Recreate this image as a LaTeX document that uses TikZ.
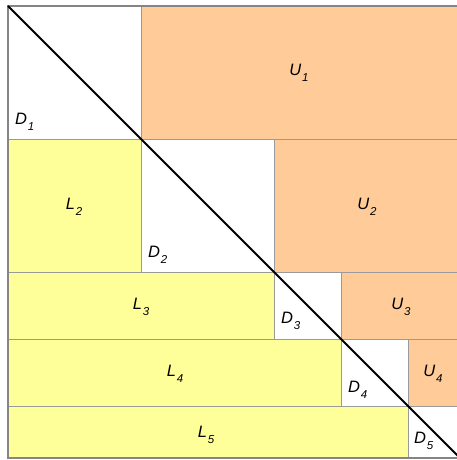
\documentclass[tikz,border=0pt]{standalone}
\usepackage{fontspec}
\setmainfont{Liberation Sans}
\definecolor{upc}{HTML}{FFCC99}
\definecolor{lowc}{HTML}{FFFF99}
\definecolor{gridc}{HTML}{9A9A9A}
\definecolor{framec}{HTML}{858585}
\newcommand{\blab}[2]{\itshape #1\hspace{0.8pt}\raisebox{-6.5pt}{\fontsize{11.5}{12}\selectfont\itshape #2}}
\begin{document}
\begin{tikzpicture}[x=1pt,y=-1pt,
  blk/.style={draw=gridc, line width=0.9pt},
  lbl/.style={font=\fontsize{16.5}{18}\selectfont, inner sep=0pt},
  dlbl/.style={lbl, anchor=base west}]
\useasboundingbox (0,0) rectangle (457,460);
\begin{scope}
\clip (0,0) rectangle (457,460);
% row 1
\filldraw[blk, fill=white] (8,6) rectangle (141,139);
\filldraw[blk, fill=upc] (141,6) rectangle (480,139);
% row 2
\filldraw[blk, fill=lowc] (8,139) rectangle (141,272);
\filldraw[blk, fill=white] (141,139) rectangle (274,272);
\filldraw[blk, fill=upc] (274,139) rectangle (480,272);
% row 3
\filldraw[blk, fill=lowc] (8,272) rectangle (274,339);
\filldraw[blk, fill=white] (274,272) rectangle (341,339);
\filldraw[blk, fill=upc] (341,272) rectangle (480,339);
% row 4
\filldraw[blk, fill=lowc] (8,339) rectangle (341,406);
\filldraw[blk, fill=white] (341,339) rectangle (408,406);
\filldraw[blk, fill=upc] (408,339) rectangle (480,406);
% row 5
\filldraw[blk, fill=lowc] (8,406) rectangle (408,458);
\filldraw[blk, fill=white] (408,406) rectangle (480,458);
% outer frame
\draw[framec, line width=2pt] (480,6) -- (8,6) -- (8,458) -- (480,458);
% diagonal
\coordinate (dA) at (8,6);
\coordinate (dB) at (470,468);
\draw[black, line width=1.8pt] (dA) -- (dB);
\end{scope}
% labels
\node[lbl] (u1) at (299,73) {\blab{U}{1}};
\node[lbl] (l2) at (74,207) {\blab{L}{2}};
\node[lbl] (u2) at (367,207) {\blab{U}{2}};
\node[lbl] (l3) at (141,307) {\blab{L}{3}};
\node[lbl] (u3) at (401,307) {\blab{U}{3}};
\node[lbl] (l4) at (175,374) {\blab{L}{4}};
\node[lbl] (u4) at (433,374) {\blab{U}{4}};
\node[lbl] (l5) at (206,435) {\blab{L}{5}};
\node[dlbl] (d1) at (15,124) {\blab{D}{1}};
\node[dlbl] (d2) at (148,257) {\blab{D}{2}};
\node[dlbl] (d3) at (281,323) {\blab{D}{3}};
\node[dlbl] (d4) at (348,392) {\blab{D}{4}};
\node[dlbl] (d5) at (414,443) {\blab{D}{5}};
\end{tikzpicture}
\end{document}
